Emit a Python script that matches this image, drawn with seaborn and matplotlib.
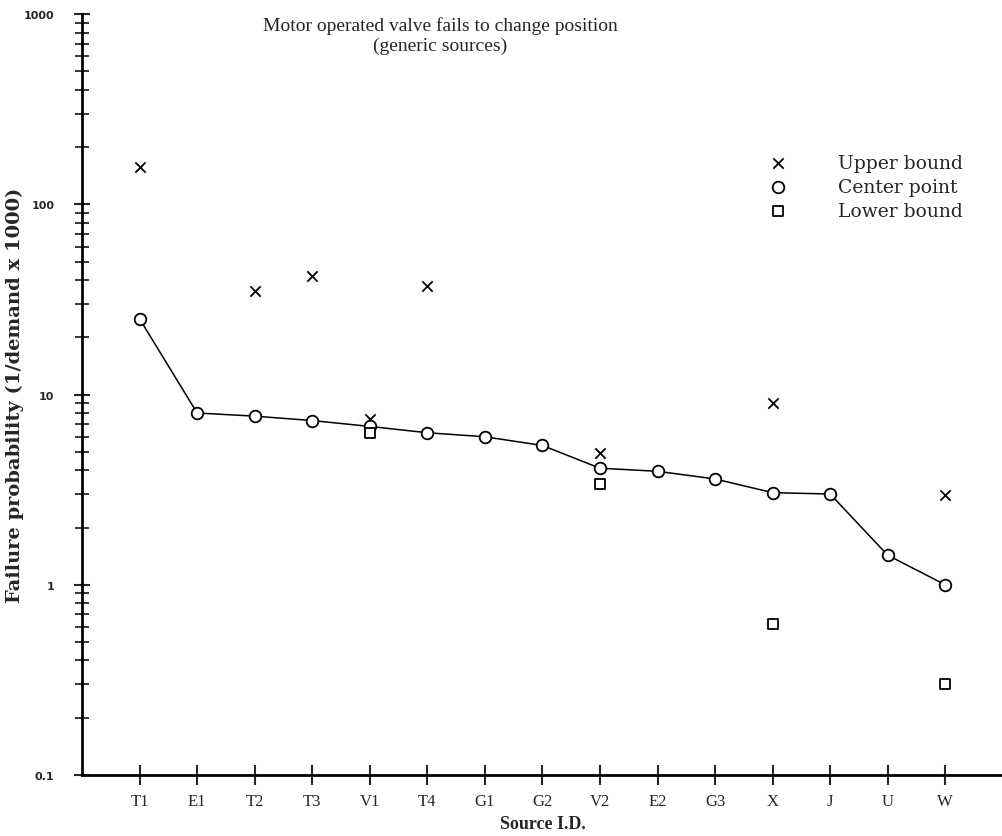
import numpy as np
import pandas as pd
import matplotlib
matplotlib.use("Agg")
import matplotlib.pyplot as plt
import seaborn as sns
from matplotlib.ticker import LogLocator, FixedLocator, FixedFormatter, NullFormatter

sources = ["T1", "E1", "T2", "T3", "V1", "T4", "G1", "G2", "V2", "E2", "G3", "X", "J", "U", "W"]
center = [25, 8.0, 7.7, 7.3, 6.8, 6.3, 6.0, 5.4, 4.1, 3.95, 3.6, 3.05, 3.0, 1.43, 1.0]
upper = [158, np.nan, 35, 42, 7.4, 37, np.nan, np.nan, 4.9, np.nan, np.nan, 9.0, np.nan, np.nan, 2.95]
lower = [np.nan, np.nan, np.nan, np.nan, 6.3, np.nan, np.nan, np.nan, 3.4, np.nan, np.nan, 0.62, np.nan, np.nan, 0.30]

title = "Motor operated valve fails to change position\n(generic sources)"
ylabel = "Failure probability (1/demand x 1000)"
xlabel = "Source I.D."
ytick_vals = [0.1, 1, 10, 100, 1000]
ytick_labels = ["0.1", "1", "10", "100", "1000"]

df = pd.DataFrame({"pos": np.arange(len(sources)), "source": sources,
                   "center": center, "upper": upper, "lower": lower})

sns.set_style("ticks")
serif = ["Liberation Serif", "DejaVu Serif"]
plt.rcParams["font.family"] = serif

fig = plt.figure(figsize=(10.03, 8.37), dpi=100)
ax = fig.add_axes([0.0818, 0.0729, 0.918, 0.909])

sns.lineplot(data=df, x="pos", y="center", color="black", linewidth=1.1, ax=ax,
             legend=False, zorder=2)
sns.scatterplot(data=df, x="pos", y="upper", marker="x", s=55, color="black",
                linewidth=1.3, ax=ax, label="Upper bound", zorder=3)
sns.scatterplot(data=df, x="pos", y="center", marker="o", s=70, facecolor="white",
                edgecolor="black", linewidth=1.3, ax=ax, label="Center point", zorder=3)
sns.scatterplot(data=df, x="pos", y="lower", marker="s", s=55, facecolor="white",
                edgecolor="black", linewidth=1.3, ax=ax, label="Lower bound", zorder=3)

ax.set_yscale("log")
ax.set_ylim(0.1, 1000)
ax.set_xlim(-1, 15)

ax.yaxis.set_major_locator(FixedLocator(ytick_vals))
ax.yaxis.set_major_formatter(FixedFormatter(ytick_labels))
ax.yaxis.set_minor_locator(LogLocator(base=10, subs=np.arange(2, 10)))
ax.yaxis.set_minor_formatter(NullFormatter())
ax.set_xticks(df["pos"])
ax.set_xticklabels(sources)

for lab in ax.get_yticklabels():
    lab.set_fontfamily("DejaVu Sans")
    lab.set_fontweight("bold")
    lab.set_fontsize(8)
for lab in ax.get_xticklabels():
    lab.set_fontsize(12)

ax.tick_params(axis="y", which="major", direction="inout", length=12, width=1.5, pad=14)
ax.tick_params(axis="y", which="minor", direction="inout", length=10, width=1.3)
ax.tick_params(axis="x", which="major", direction="inout", length=14, width=1.5, pad=6)

for s in ["top", "right"]:
    ax.spines[s].set_visible(False)
for s in ["left", "bottom"]:
    ax.spines[s].set_linewidth(2)
    ax.spines[s].set_color("black")

ax.set_xlabel(xlabel, fontsize=13, fontweight="bold", labelpad=4)
ax.set_ylabel(ylabel, fontsize=14, fontweight="semibold", family=["DejaVu Serif"])
ax.yaxis.set_label_coords(-0.063, 0.50)
ax.text(0.389, 0.997, title, transform=ax.transAxes, ha="center", va="top",
        fontsize=14, linespacing=1.2)

leg = ax.legend(loc="upper right", bbox_to_anchor=(0.965, 0.826), frameon=False,
                prop={"family": "DejaVu Serif", "size": 13.5},
                handletextpad=2.2, labelspacing=0.32, borderaxespad=0)

fig.savefig("out.png", dpi=100)
